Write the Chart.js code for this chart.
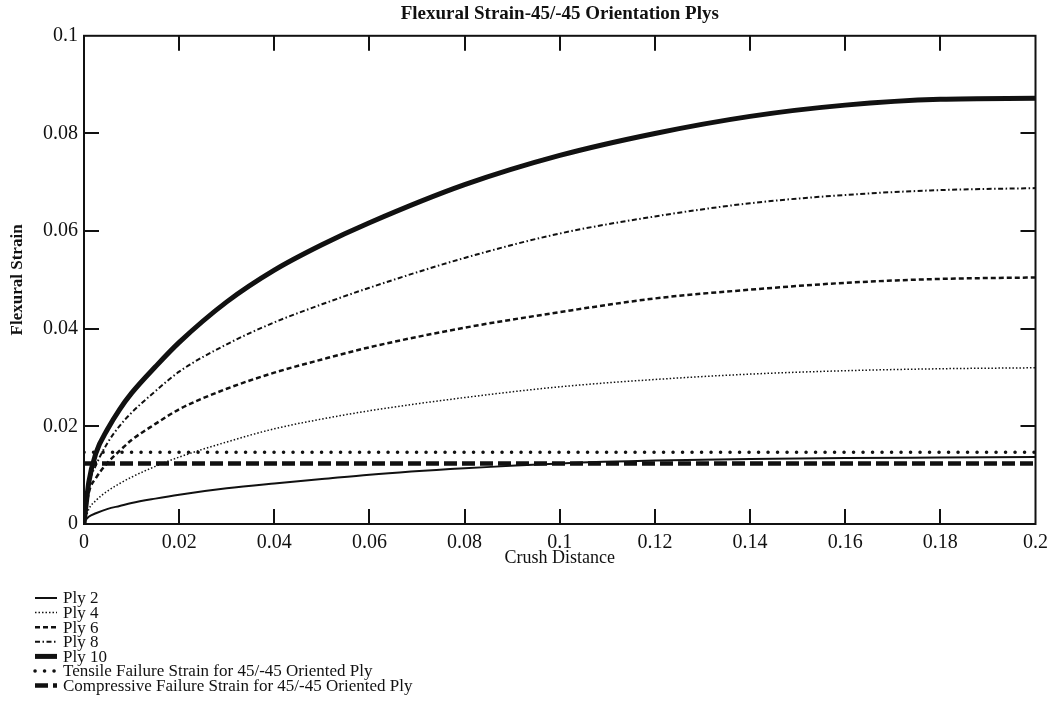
<!DOCTYPE html>
<html>
<head>
<meta charset="utf-8">
<script src="https://cdn.jsdelivr.net/npm/chart.js@4.4.1/dist/chart.umd.min.js"></script>
<style>
  html, body { margin: 0; padding: 0; background: #fff; }
  #wrap { width: 1055px; height: 728px; }
</style>
</head>
<body>
<div id="wrap"><canvas id="strainChart" width="1055" height="728"></canvas></div>
<script>
// Data
const crushDistance = [0, 0.001, 0.0025, 0.005, 0.0075, 0.01, 0.015, 0.02, 0.03, 0.04, 0.05, 0.06, 0.08, 0.1, 0.12, 0.14, 0.16, 0.18, 0.2];
const ply2 = [0.0005, 0.0015, 0.0022, 0.0031, 0.0037, 0.0043, 0.0052, 0.006, 0.0073, 0.0083, 0.0092, 0.0101, 0.0114, 0.0124, 0.013, 0.0133, 0.0135, 0.0136, 0.0137];
const ply4 = [0, 0.003, 0.0048, 0.0068, 0.0083, 0.0096, 0.0118, 0.0137, 0.0168, 0.0195, 0.0215, 0.0232, 0.0259, 0.0281, 0.0296, 0.0307, 0.0314, 0.0318, 0.032];
const ply6 = [0, 0.0064, 0.0094, 0.0126, 0.015, 0.0172, 0.0205, 0.0235, 0.0277, 0.031, 0.0337, 0.0362, 0.0402, 0.0434, 0.0462, 0.048, 0.0494, 0.0502, 0.0505];
const ply8 = [0, 0.0079, 0.012, 0.0167, 0.0201, 0.0228, 0.0272, 0.0312, 0.0368, 0.0413, 0.045, 0.0484, 0.0545, 0.0595, 0.063, 0.0657, 0.0674, 0.0684, 0.0688];
const ply10 = [0, 0.0085, 0.0145, 0.0195, 0.0235, 0.0268, 0.0322, 0.0372, 0.0455, 0.052, 0.0572, 0.0617, 0.0695, 0.0755, 0.08, 0.0835, 0.0858, 0.087, 0.0872];
const failureX = [0, 0.2];
const tensileFailure = [0.0147, 0.0147];
const compressiveFailure = [0.0124, 0.0124];

const xTickLabels = ['0', '0.02', '0.04', '0.06', '0.08', '0.1', '0.12', '0.14', '0.16', '0.18', '0.2'];
const yTickLabels = ['0', '0.02', '0.04', '0.06', '0.08', '0.1'];

const INK = '#111';
const SERIF = "'Liberation Serif', 'Times New Roman', serif";

function toPoints(xs, ys) {
    return xs.map((x, i) => ({ x: x, y: ys[i] }));
}

function series(label, xs, ys, width, dash, cap) {
    return {
        label: label,
        data: toPoints(xs, ys),
        borderColor: INK,
        borderWidth: width,
        borderDash: dash,
        borderCapStyle: cap || 'butt',
        pointRadius: 0,
        fill: false,
        cubicInterpolationMode: 'monotone'
    };
}

// frame with inward ticks on all four sides
const frameTicks = {
    id: 'frameTicks',
    afterDatasetsDraw(chart) {
        const { ctx, chartArea: a, scales: { x, y } } = chart;
        const len = 15;
        ctx.save();
        ctx.strokeStyle = INK;
        ctx.lineWidth = 2;
        ctx.setLineDash([]);
        ctx.strokeRect(a.left, a.top, a.right - a.left, a.bottom - a.top);
        ctx.beginPath();
        x.ticks.forEach(t => {
            const px = Math.round(x.getPixelForValue(t.value));
            if (px <= a.left + 2 || px >= a.right - 2) return;
            ctx.moveTo(px, a.bottom); ctx.lineTo(px, a.bottom - len);
            ctx.moveTo(px, a.top); ctx.lineTo(px, a.top + len);
        });
        y.ticks.forEach(t => {
            const py = Math.round(y.getPixelForValue(t.value));
            if (py <= a.top + 2 || py >= a.bottom - 2) return;
            ctx.moveTo(a.left, py); ctx.lineTo(a.left + len, py);
            ctx.moveTo(a.right, py); ctx.lineTo(a.right - len, py);
        });
        ctx.stroke();
        ctx.restore();
    }
};

// stacked legend under the plot, bottom left
const stackedLegend = {
    id: 'stackedLegend',
    afterDraw(chart) {
        const ctx = chart.ctx;
        const x0 = 35, x1 = 57, top = 598, rowH = 14.6;
        ctx.save();
        ctx.font = '17px ' + SERIF;
        ctx.textBaseline = 'middle';
        ctx.fillStyle = INK;
        chart.data.datasets.forEach((ds, i) => {
            const yy = top + i * rowH;
            ctx.strokeStyle = INK;
            ctx.lineWidth = ds.borderWidth;
            ctx.lineCap = ds.borderCapStyle;
            ctx.setLineDash(ds.borderDash);
            ctx.beginPath();
            ctx.moveTo(x0, yy);
            ctx.lineTo(x1, yy);
            ctx.stroke();
            ctx.fillText(ds.label, 63, yy + 1);
        });
        ctx.restore();
    }
};

const ctx = document.getElementById('strainChart').getContext('2d');
const strainChart = new Chart(ctx, {
    type: 'line',
    data: {
        datasets: [
            series('Ply 2', crushDistance, ply2, 2, []),
            series('Ply 4', crushDistance, ply4, 1.5, [1.5, 2]),
            series('Ply 6', crushDistance, ply6, 2.5, [5, 3]),
            series('Ply 8', crushDistance, ply8, 2, [5, 2.5, 1.5, 2.5]),
            series('Ply 10', crushDistance, ply10, 5, []),
            series('Tensile Failure Strain for 45/-45 Oriented Ply', failureX, tensileFailure, 3.5, [0.1, 9.4], 'round'),
            series('Compressive Failure Strain for 45/-45 Oriented Ply', failureX, compressiveFailure, 4.5, [13, 5])
        ]
    },
    options: {
        responsive: false,
        animation: false,
        layout: {
            padding: { left: 0, right: 16, top: 0, bottom: 154 }
        },
        plugins: {
            legend: { display: false },
            tooltip: { enabled: false },
            title: {
                display: true,
                fullSize: false,
                text: 'Flexural Strain-45/-45 Orientation Plys',
                color: INK,
                font: { family: SERIF, size: 19, weight: 'bold' },
                padding: { top: 3, bottom: 10 }
            }
        },
        scales: {
            x: {
                type: 'linear',
                min: 0,
                max: 0.2,
                grid: { display: false, drawTicks: false },
                border: { display: false },
                ticks: {
                    stepSize: 0.02,
                    padding: 7,
                    color: INK,
                    maxRotation: 0,
                    font: { family: SERIF, size: 20 },
                    callback: (value, index) => xTickLabels[index]
                },
                title: {
                    display: true,
                    text: 'Crush Distance',
                    color: INK,
                    font: { family: SERIF, size: 18 },
                    padding: { top: 0, bottom: 5 }
                },
                afterFit(scale) { scale.height = 50; }
            },
            y: {
                type: 'linear',
                min: 0,
                max: 0.1,
                grid: { display: false, drawTicks: false },
                border: { display: false },
                ticks: {
                    stepSize: 0.02,
                    padding: 6,
                    color: INK,
                    font: { family: SERIF, size: 20 },
                    callback: (value, index) => yTickLabels[index]
                },
                title: {
                    display: true,
                    text: 'Flexural Strain',
                    color: INK,
                    font: { family: SERIF, size: 17, weight: 'bold' },
                    padding: { top: 7, bottom: 0 }
                },
                afterFit(scale) { scale.width = 84; }
            }
        }
    },
    plugins: [frameTicks, stackedLegend]
});
</script>
</body>
</html>
